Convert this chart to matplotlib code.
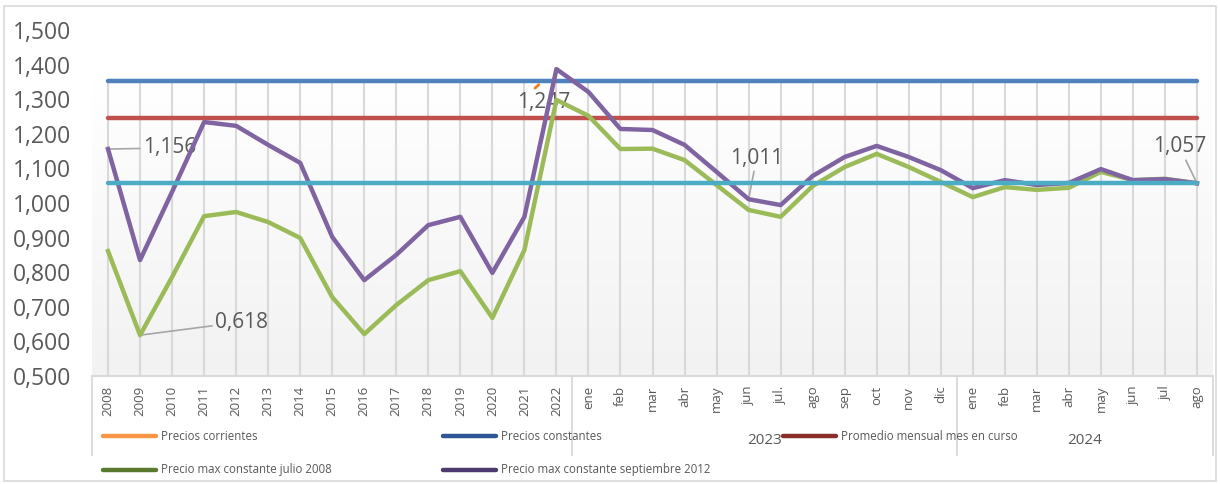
import matplotlib
matplotlib.use("Agg")
import matplotlib.pyplot as plt
import matplotlib.transforms as mtransforms
from matplotlib.lines import Line2D
from matplotlib.patches import Rectangle
import numpy as np

plt.rcParams['font.family'] = ['Open Sans', 'DejaVu Sans']

# categories
years = ['2008', '2009', '2010', '2011', '2012', '2013', '2014', '2015',
         '2016', '2017', '2018', '2019', '2020', '2021', '2022']
months_2023 = ['ene', 'feb', 'mar', 'abr', 'may', 'jun', 'jul.', 'ago',
               'sep', 'oct', 'nov', 'dic']
months_2024 = ['ene', 'feb', 'mar', 'abr', 'may', 'jun', 'jul', 'ago']
labels = years + months_2023 + months_2024

# series
max_sep_2012 = [1.156, 0.835, 1.032, 1.234, 1.223, 1.168, 1.116, 0.902,
                0.777, 0.850, 0.936, 0.960, 0.798, 0.960, 1.387,
                1.321, 1.214, 1.211, 1.168, 1.090, 1.011, 0.994, 1.078,
                1.133, 1.165, 1.133, 1.095,
                1.043, 1.066, 1.052, 1.058, 1.098, 1.066, 1.069, 1.057]
max_jul_2008 = [0.861, 0.618, 0.786, 0.962, 0.974, 0.945, 0.899, 0.728,
                0.621, 0.705, 0.777, 0.803, 0.668, 0.864, 1.298,
                1.252, 1.156, 1.157, 1.124, 1.052, 0.980, 0.960, 1.049,
                1.104, 1.142, 1.104, 1.061,
                1.017, 1.046, 1.038, 1.044, 1.090, 1.066, 1.070, 1.057]
constantes = [1.353] * len(labels)
promedio = [1.247] * len(labels)
actual = [1.057] * len(labels)

x = np.arange(len(labels))

W, H = 1220, 484
fig = plt.figure(figsize=(W / 100, H / 100), dpi=100)
ax = fig.add_axes([92 / W, 1 - 376 / H, (1213 - 92) / W, (376 - 30) / H])
ax.set_xlim(-0.5, len(labels) - 0.5)
ax.set_ylim(0.5, 1.5)
ax.patch.set_alpha(0)

# outer frame
fig.add_artist(Rectangle((4 / W, 3 / H), 1212 / W, 475 / H, transform=fig.transFigure,
                         fill=False, edgecolor='#d9d9d9', lw=1.2))

# gradient plot area
grad = np.linspace(0, 1, 100).reshape(-1, 1)
ax.imshow(grad, extent=[-0.5, len(labels) - 0.5, 0.5, 1.36], aspect='auto',
          cmap=matplotlib.colors.LinearSegmentedColormap.from_list('g', ['#f2f2f2', '#ffffff']),
          origin='lower', zorder=0)

# vertical grid
ax.vlines(x, 0.5, 1.353, color='#d9d9d9', lw=1.5, zorder=1)

for s in ['top', 'right', 'left']:
    ax.spines[s].set_visible(False)
ax.spines['bottom'].set_color('#d9d9d9')
ax.spines['bottom'].set_linewidth(1.5)

lw = 3.2
ax.plot(x, constantes, color='#4f81bd', lw=lw, solid_capstyle='round', zorder=3)
ax.plot(x, promedio, color='#c0504d', lw=lw, solid_capstyle='round', zorder=3)
ax.plot(x, max_jul_2008, color='#9bbb59', lw=lw, zorder=4)
ax.plot(x, max_sep_2012, color='#8064a2', lw=lw, zorder=5)
ax.plot(x, actual, color='#4bacc6', lw=lw, solid_capstyle='round', zorder=6)

# y axis
yt = np.arange(0.5, 1.501, 0.1)
ax.set_yticks(yt)
ax.set_yticklabels([f'{v:.3f}'.replace('.', ',') for v in yt], fontsize=16.5, color='#595959')
ax.tick_params(axis='y', length=0, pad=15)

# x axis
ax.set_xticks(x)
ax.set_xticklabels(labels, rotation=90, fontsize=9.5, color='#595959')
ax.tick_params(axis='x', length=0, pad=7)

# group separators under axis
bt = mtransforms.blended_transform_factory(ax.transData, ax.transAxes)
for xs in [-0.5, 14.5, 26.5, len(labels) - 0.5]:
    ax.add_line(Line2D([xs, xs], [0, -79 / 346], transform=bt, color='#d9d9d9',
                       lw=1.3, clip_on=False))
ax.text(20.5, -64 / 346, '2023', transform=bt, ha='center', va='center',
        fontsize=11, color='#595959')
ax.text(30.5, -64 / 346, '2024', transform=bt, ha='center', va='center',
        fontsize=11, color='#595959')

# data labels
lab = dict(fontsize=15, color='#595959', va='center', ha='left')
arr = dict(arrowstyle='-', color='#a6a6a6', lw=1.2, shrinkA=0, shrinkB=0)
ax.annotate('1,156', xy=(0, max_sep_2012[0]), xytext=(1.08, 1.159), arrowprops=arr, **lab)
ax.annotate('0,618', xy=(1, max_jul_2008[1]), xytext=(3.34, 0.656), arrowprops=arr, **lab)
ax.annotate('1,011', xy=(20, max_sep_2012[20]), xytext=(19.42, 1.13), arrowprops=arr, **lab)
ax.annotate('1,057', xy=(34, actual[-1]), xytext=(32.62, 1.162), arrowprops=arr, **lab)
ax.annotate('1,247', xy=(12.78, 1.29), **lab)
# small orange leader stub above the 1,247 label
ax.annotate('', xy=(13.33, 1.332), xytext=(13.45, 1.342),
            arrowprops=dict(arrowstyle='-', color='#f07f1e', lw=2, shrinkA=0, shrinkB=0))

# legend
leg = [
    ('Precios corrientes', '#f79646', 103, 436),
    ('Precios constantes', '#2f5597', 443, 436),
    ('Promedio mensual mes en curso', '#8b2d2b', 783, 436),
    ('Precio max constante julio 2008', '#5a7b2f', 103, 470),
    ('Precio max constante septiembre 2012', '#4b3a6b', 443, 470),
]
for name, col, lx, ly in leg:
    fig.add_artist(Line2D([lx / W, (lx + 53) / W], [1 - ly / H, 1 - ly / H],
                          transform=fig.transFigure, color=col, lw=3.2,
                          solid_capstyle='round'))
    fig.text((lx + 58) / W, 1 - ly / H, name, fontsize=8.3, color='#595959', va='center')

fig.savefig('out.png', dpi=100)
